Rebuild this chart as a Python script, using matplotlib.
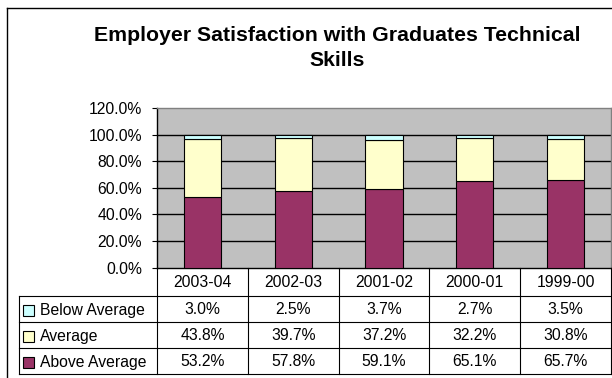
import matplotlib
matplotlib.use("Agg")
import matplotlib.pyplot as plt
from matplotlib.lines import Line2D
from matplotlib.patches import Rectangle

# Survey results per academic year (percent of employers)
years = ["2003-04", "2002-03", "2001-02", "2000-01", "1999-00"]
below_average = [3.0, 2.5, 3.7, 2.7, 3.5]
average = [43.8, 39.7, 37.2, 32.2, 30.8]
above_average = [53.2, 57.8, 59.1, 65.1, 65.7]

series_names = ["Below Average", "Average", "Above Average"]
series_colors = ["#CCFFFF", "#FFFFCC", "#993366"]
y_ticks = [0, 20, 40, 60, 80, 100, 120]

plt.rcParams["font.family"] = ["Liberation Sans", "DejaVu Sans"]

W, H = 612, 378
fig = plt.figure(figsize=(W / 100, H / 100), dpi=100)
fig.patch.set_facecolor("white")


def fx(px):
    return px / W


def fy(py):
    return 1 - py / H


# Plot area geometry (pixels)
PL, PR, PT, PB = 157, 611, 108, 267.5
ax = fig.add_axes([fx(PL), fy(PB), fx(PR) - fx(PL), fy(PT) - fy(PB)])
ax.set_facecolor("#C0C0C0")

x = list(range(len(years)))
bar_w = 0.41
ax.bar(x, above_average, bar_w, color=series_colors[2], edgecolor="black",
       linewidth=0.8, zorder=3)
ax.bar(x, average, bar_w, bottom=above_average, color=series_colors[1],
       edgecolor="black", linewidth=0.8, zorder=3)
base2 = [a + b for a, b in zip(above_average, average)]
ax.bar(x, below_average, bar_w, bottom=base2, color=series_colors[0],
       edgecolor="black", linewidth=0.8, zorder=3)

ax.set_xlim(-0.5, len(years) - 0.5)
ax.set_ylim(0, 120)
ax.set_yticks(y_ticks)
ax.set_yticklabels([f"{v:.1f}%" for v in y_ticks])
ax.tick_params(axis="y", length=3.6, width=0.8, pad=7.2, labelsize=11.3,
               colors="black")
ax.set_xticks([])
for v in y_ticks[1:-1]:
    ax.axhline(v, color="black", linewidth=1.0, zorder=1)
ax.spines["left"].set_color("black")
ax.spines["bottom"].set_color("black")
ax.spines["top"].set_color("#808080")
ax.spines["right"].set_color("#808080")
for s in ax.spines.values():
    s.set_linewidth(1.0)

# Title
title_lines = ["Employer Satisfaction with Graduates Technical", "Skills"]
fig.text(fx(337.5), fy(41), title_lines[0], ha="center", va="baseline",
         fontsize=15.3, fontweight="bold")
fig.text(fx(337.5), fy(66), title_lines[1], ha="center", va="baseline",
         fontsize=15.3, fontweight="bold")

# Chart area border (top and left edges)
fig.add_artist(Line2D([fx(7), fx(612)], [fy(8), fy(8)], color="black", lw=1.0))
fig.add_artist(Line2D([fx(7), fx(7)], [fy(8), fy(378)], color="black", lw=1.0))

# Data table under the plot
TL = 19
col_w = (PR - PL) / len(years)
row_edges = [PB, 296, 322, 348, 374]


def hline(x0, x1, y):
    fig.add_artist(Line2D([fx(x0), fx(x1)], [fy(y), fy(y)], color="black", lw=0.8))


def vline(xp, y0, y1):
    fig.add_artist(Line2D([fx(xp), fx(xp)], [fy(y0), fy(y1)], color="black", lw=0.8))


for yy in row_edges[1:]:
    hline(TL, PR, yy)
vline(TL, row_edges[1], row_edges[-1])
for i in range(len(years) + 1):
    vline(PL + i * col_w, PB, row_edges[-1])

# Header row with category names
for i, yr in enumerate(years):
    cx = PL + (i + 0.5) * col_w
    fig.text(fx(cx), fy((row_edges[0] + row_edges[1]) / 2 + 1), yr,
             ha="center", va="center", fontsize=11.3)

table_values = [below_average, average, above_average]
for r, (name, color, vals) in enumerate(zip(series_names, series_colors, table_values)):
    y0, y1 = row_edges[r + 1], row_edges[r + 2]
    cy = (y0 + y1) / 2
    key = 11
    fig.add_artist(Rectangle((fx(23), fy(cy + key / 2 + 1)), fx(key), key / H,
                             facecolor=color, edgecolor="black", lw=0.8))
    fig.text(fx(40), fy(cy + 1), name, ha="left", va="center", fontsize=11.3)
    for i, v in enumerate(vals):
        cx = PL + (i + 0.5) * col_w
        fig.text(fx(cx), fy(cy), f"{v:.1f}%", ha="center", va="center",
                 fontsize=11.3)

fig.savefig("out.png", dpi=100)
